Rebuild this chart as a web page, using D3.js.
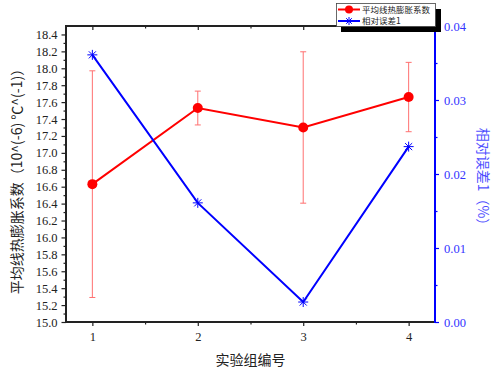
<!DOCTYPE html>
<html>
<head>
<meta charset="utf-8">
<script src="https://cdn.jsdelivr.net/npm/d3@7"></script>
<style>
html,body{margin:0;padding:0;background:#fff;}
svg{display:block;}
.num{font-family:"Liberation Serif","DejaVu Serif",serif !important;}
</style>
</head>
<body>
<svg id="chart" width="495" height="371"></svg>
<script>
const groups = [1, 2, 3, 4];
const meanCoef = [16.63, 17.53, 17.30, 17.66];
const coefErr = [1.34, 0.20, 0.895, 0.41];
const relErr = [0.0361, 0.0161, 0.0027, 0.0237];
const xTicks = [1, 2, 3, 4];
const xMinor = [1.5, 2.5, 3.5];
const leftTicks = d3.range(0, 18).map(i => +(15 + i * 0.2).toFixed(1));
const leftMinor = d3.range(0, 35).map(i => +(15.1 + i * 0.2).toFixed(1)).filter(v => v < 18.5);
const rightTicks = [0, 0.01, 0.02, 0.03, 0.04];
const rightMinor = [0.005, 0.015, 0.025, 0.035];
const seriesNames = ["平均线热膨胀系数", "相对误差1"];
const xTitle = "实验组编号";
const yTitle = "平均线热膨胀系数（10^(-6) ℃^(-1)）";
const y2Title = "相对误差1（%）";

const svg = d3.select("#chart");
const L = 66, R = 435, T = 26, B = 322;
const cjkFont = "'Noto Sans CJK SC', 'Noto Sans', sans-serif";
const RED = "#ff0000", BLUE = "#0000ff";

const x = d3.scaleLinear().domain([0.75, 4.25]).range([L, R]);
const y = d3.scaleLinear().domain([15, 18.5]).range([B, T]);
const y2 = d3.scaleLinear().domain([0, 0.04]).range([B, T]);

const gB = svg.append("g").attr("transform", `translate(0,${B})`)
  .call(d3.axisBottom(x).tickValues(xTicks).tickFormat(d3.format("d")).tickSize(4).tickPadding(6));
gB.append("g").call(d3.axisBottom(x).tickValues(xMinor).tickFormat("").tickSize(2.5));
const gT = svg.append("g").attr("transform", `translate(0,${T})`)
  .call(d3.axisBottom(x).tickValues(xTicks).tickFormat("").tickSize(4));
gT.append("g").call(d3.axisBottom(x).tickValues(xMinor).tickFormat("").tickSize(2.5));
const gL = svg.append("g").attr("transform", `translate(${L},0)`)
  .call(d3.axisLeft(y).tickValues(leftTicks).tickFormat(d3.format(".1f")).tickSize(4.5).tickPadding(4));
gL.append("g").call(d3.axisLeft(y).tickValues(leftMinor).tickFormat("").tickSize(2.5));
const gR = svg.append("g").attr("transform", `translate(${R},0)`)
  .call(d3.axisRight(y2).tickValues(rightTicks).tickFormat(d3.format(".2f")).tickSize(4).tickPadding(5));
gR.append("g").call(d3.axisRight(y2).tickValues(rightMinor).tickFormat("").tickSize(2.5));

[gB, gT, gL, gR].forEach(g => g.attr("font-family", null));
[gB, gT, gL].forEach(g => {
  g.selectAll(".domain").attr("stroke", "#222").attr("stroke-width", 2);
  g.selectAll("line").attr("stroke", "#222").attr("stroke-width", 1.2);
  g.selectAll("text").attr("class", "num").attr("fill", "#222").attr("font-size", 12.5);
});
gT.selectAll(".domain").remove();
svg.append("line").attr("x1", L - 1).attr("x2", R).attr("y1", T).attr("y2", T)
  .attr("stroke", "#222").attr("stroke-width", 2);
gB.selectAll(".domain").attr("d", `M${L - 1},0H${R}`);
gL.selectAll(".domain").attr("d", `M0,${B}V${T}`);
gR.selectAll(".domain").attr("stroke", BLUE).attr("stroke-width", 2).attr("d", `M0,${B + 1}V${T}`);
gR.selectAll("line").attr("stroke", BLUE).attr("stroke-width", 1.2);
gR.selectAll("text").attr("class", "num").attr("fill", "#3333ff").attr("font-size", 12.5);

const eb = svg.append("g");
groups.forEach((g, i) => {
  const cx = x(g), y1 = y(meanCoef[i] + coefErr[i]), y0 = y(meanCoef[i] - coefErr[i]);
  eb.append("line").attr("x1", cx).attr("x2", cx).attr("y1", y1).attr("y2", y0)
    .attr("stroke", "#ff7070").attr("stroke-width", 1);
  [y1, y0].forEach(yy => eb.append("line").attr("x1", cx - 3).attr("x2", cx + 3)
    .attr("y1", yy).attr("y2", yy).attr("stroke", "#ff7070").attr("stroke-width", 1));
});

svg.append("path").datum(groups.map((g, i) => [g, meanCoef[i]]))
  .attr("fill", "none").attr("stroke", RED).attr("stroke-width", 2)
  .attr("d", d3.line().x(d => x(d[0])).y(d => y(d[1])));
svg.append("path").datum(groups.map((g, i) => [g, relErr[i]]))
  .attr("fill", "none").attr("stroke", BLUE).attr("stroke-width", 2)
  .attr("d", d3.line().x(d => x(d[0])).y(d => y2(d[1])));

function asterisk(cx, cy, r) {
  const d = r * Math.SQRT1_2;
  return `M${cx - r},${cy}H${cx + r}M${cx},${cy - r}V${cy + r}` +
    `M${cx - d},${cy - d}L${cx + d},${cy + d}M${cx - d},${cy + d}L${cx + d},${cy - d}`;
}
svg.append("g").selectAll("circle").data(groups).join("circle")
  .attr("cx", d => x(d)).attr("cy", (d, i) => y(meanCoef[i])).attr("r", 5).attr("fill", RED);
svg.append("g").selectAll("path").data(groups).join("path")
  .attr("d", (d, i) => asterisk(x(d), y2(relErr[i]), 5))
  .attr("stroke", BLUE).attr("stroke-width", 1).attr("fill", "none");

svg.append("text").attr("x", (L + R) / 2).attr("y", 365).attr("text-anchor", "middle")
  .attr("font-family", cjkFont).attr("font-size", 14).attr("fill", "#222").text(xTitle);
svg.append("text").attr("transform", `translate(22,${(T + B) / 2 + 4}) rotate(-90)`)
  .attr("text-anchor", "middle").attr("font-family", cjkFont).attr("font-size", 14)
  .attr("fill", "#222").text(yTitle);
svg.append("text").attr("transform", `translate(478,${(T + B) / 2 + 6}) rotate(90)`)
  .attr("text-anchor", "middle").attr("font-family", cjkFont).attr("font-size", 14)
  .attr("fill", BLUE).attr("opacity", 0.7).text(y2Title);

const lg = svg.append("g");
lg.append("rect").attr("x", 341).attr("y", 9).attr("width", 100).attr("height", 23).attr("fill", "#000");
lg.append("rect").attr("x", 336.5).attr("y", 3.5).attr("width", 99).attr("height", 23)
  .attr("fill", "#fff").attr("stroke", "#444").attr("stroke-width", 0.8);
const rows = [9.5, 21];
lg.append("line").attr("x1", 338).attr("x2", 360).attr("y1", rows[0]).attr("y2", rows[0])
  .attr("stroke", RED).attr("stroke-width", 2);
lg.append("circle").attr("cx", 349).attr("cy", rows[0]).attr("r", 4).attr("fill", RED);
lg.append("line").attr("x1", 338).attr("x2", 360).attr("y1", rows[1]).attr("y2", rows[1])
  .attr("stroke", BLUE).attr("stroke-width", 2);
lg.append("path").attr("d", asterisk(349, rows[1], 4)).attr("stroke", BLUE).attr("stroke-width", 1);
seriesNames.forEach((n, i) => lg.append("text").attr("x", 362).attr("y", rows[i] + 3)
  .attr("font-family", cjkFont).attr("font-size", 8.5).attr("fill", "#222").text(n));
</script>
</body>
</html>
